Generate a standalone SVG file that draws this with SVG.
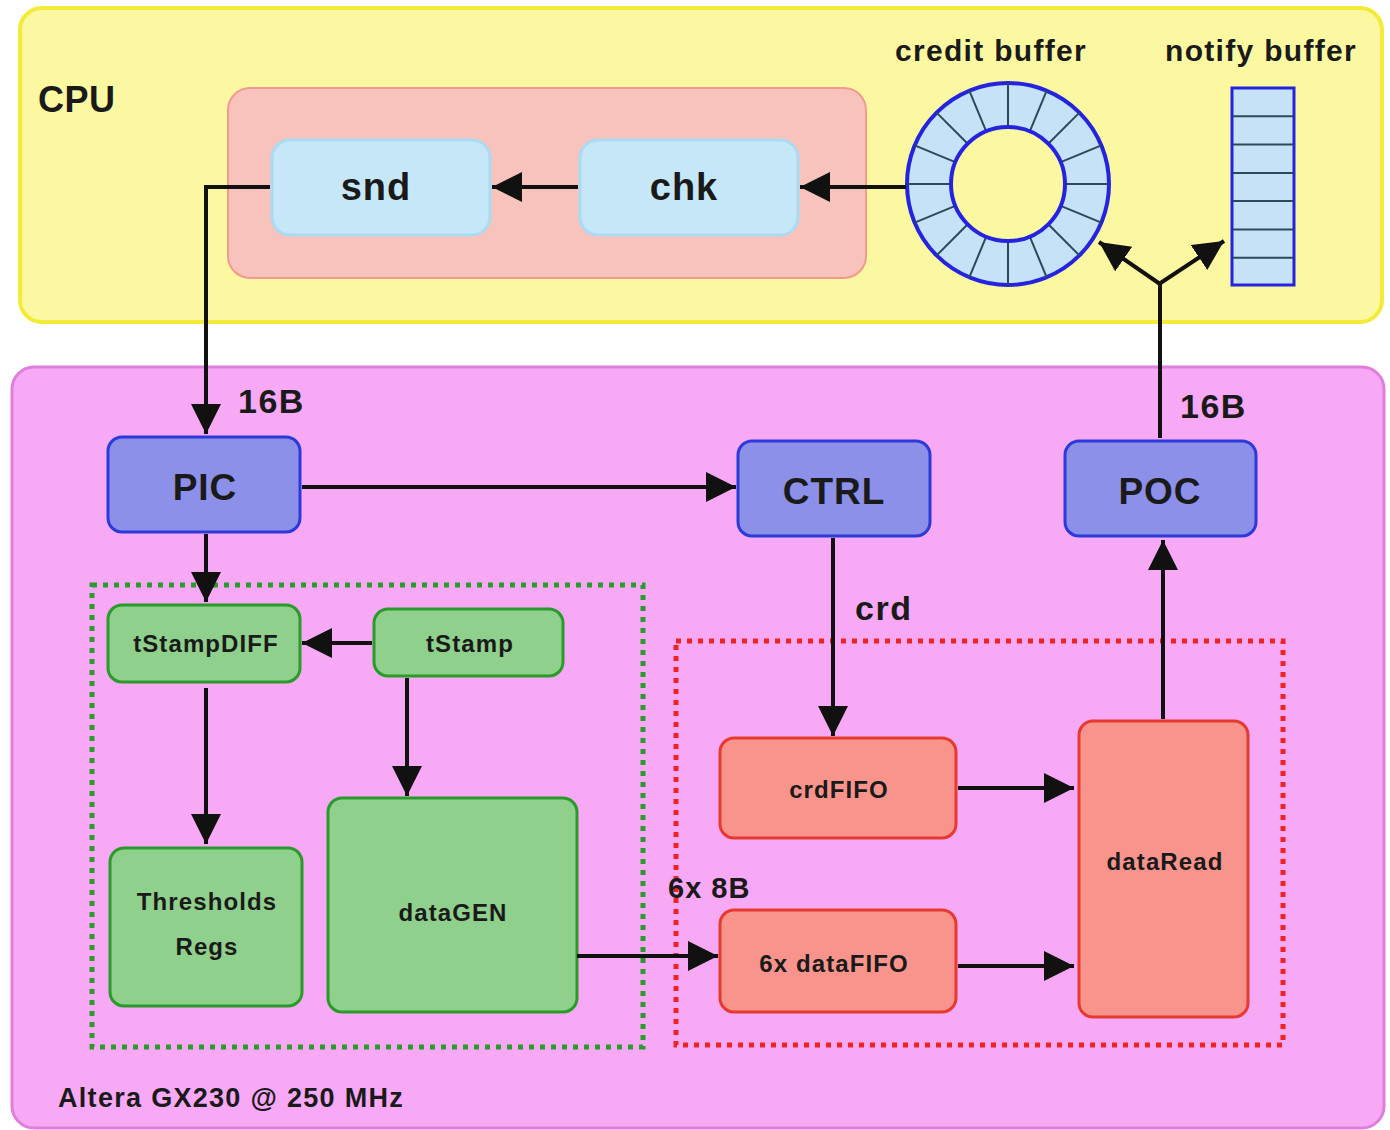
<svg xmlns="http://www.w3.org/2000/svg" width="1390" height="1130" viewBox="0 0 1390 1130">
<style>
text{font-family:"Liberation Sans",Arial,sans-serif;font-weight:bold;fill:#1a1a1a;text-anchor:middle}
.lbl{text-anchor:start}
.sm{font-size:24px;letter-spacing:1.1px}
.con{stroke:#111;stroke-width:4;fill:none}
.blue{fill:#8c90e8;stroke:#2b3ad8;stroke-width:3}
.green{fill:#8fd08c;stroke:#2a9a2a;stroke-width:3}
.red{fill:#f8948c;stroke:#e63a30;stroke-width:3}
.lb{fill:#c6e7f8;stroke:#a9dbf3;stroke-width:3}
.ring{fill:#c6e2f6;stroke:#2424e0;stroke-width:4}
.seg{stroke:#2a4a5a;stroke-width:2}
</style>
<defs>
<marker id="ah" markerUnits="userSpaceOnUse" markerWidth="32" markerHeight="32" refX="30" refY="15" orient="auto">
<path d="M0,0 L30,15 L0,30 z" fill="#111"/>
</marker>
</defs>
<rect width="1390" height="1130" fill="#ffffff"/>
<g id="cpu">
<rect x="20" y="8" width="1362" height="314" rx="22" fill="#fcf8a2" stroke="#f4ea38" stroke-width="4"/>
<text class="lbl" x="38" y="112" font-size="36" letter-spacing="0.5">CPU</text>
</g>
<g id="sw">
<rect x="228" y="88" width="638" height="190" rx="22" fill="#f9c3bd" stroke="#f09a90" stroke-width="2"/>
</g>
<g id="fpga">
<rect x="12" y="367" width="1372" height="761" rx="22" fill="#f8a9f6" stroke="#e07ede" stroke-width="3"/>
<text class="lbl" x="58" y="1107" font-size="27" letter-spacing="1.3">Altera GX230 @ 250 MHz</text>
</g>
<g id="greenGroup">
<rect x="92" y="585" width="551" height="462" fill="none" stroke="#2a9a2a" stroke-width="5" stroke-dasharray="5 6"/>
</g>
<g id="redGroup">
<rect x="676" y="641" width="607" height="404" fill="none" stroke="#ee2424" stroke-width="5" stroke-dasharray="5 6"/>
</g>
<g id="snd">
<rect class="lb" x="272" y="140" width="218" height="95" rx="18"/>
<text x="376" y="200" font-size="38" letter-spacing="1">snd</text>
</g>
<g id="chk">
<rect class="lb" x="580" y="140" width="218" height="95" rx="18"/>
<text x="684" y="200" font-size="38" letter-spacing="1">chk</text>
</g>
<g id="creditBuffer">
<circle class="ring" cx="1008" cy="184" r="101"/>
<g class="seg">
<line x1="1008" y1="83" x2="1008" y2="127"/>
<line x1="1046.7" y1="90.7" x2="1029.8" y2="131.3"/>
<line x1="1079.4" y1="112.6" x2="1048.3" y2="143.7"/>
<line x1="1101.3" y1="145.3" x2="1060.7" y2="162.2"/>
<line x1="1109" y1="184" x2="1065" y2="184"/>
<line x1="1101.3" y1="222.7" x2="1060.7" y2="205.8"/>
<line x1="1079.4" y1="255.4" x2="1048.3" y2="224.3"/>
<line x1="1046.7" y1="277.3" x2="1029.8" y2="236.7"/>
<line x1="1008" y1="285" x2="1008" y2="241"/>
<line x1="969.3" y1="277.3" x2="986.2" y2="236.7"/>
<line x1="936.6" y1="255.4" x2="967.7" y2="224.3"/>
<line x1="914.7" y1="222.7" x2="955.3" y2="205.8"/>
<line x1="907" y1="184" x2="951" y2="184"/>
<line x1="914.7" y1="145.3" x2="955.3" y2="162.2"/>
<line x1="936.6" y1="112.6" x2="967.7" y2="143.7"/>
<line x1="969.3" y1="90.7" x2="986.2" y2="131.3"/>
</g>
<circle cx="1008" cy="184" r="57" fill="#fcf8a2" stroke="#2424e0" stroke-width="4"/>
<text x="991" y="61" font-size="30" letter-spacing="1.3">credit buffer</text>
</g>
<g id="notifyBuffer">
<rect x="1232" y="88" width="62" height="197" fill="#c6e2f6" stroke="#2424e0" stroke-width="3"/>
<g class="seg">
<line x1="1233" y1="116.3" x2="1293" y2="116.3"/>
<line x1="1233" y1="144.6" x2="1293" y2="144.6"/>
<line x1="1233" y1="172.9" x2="1293" y2="172.9"/>
<line x1="1233" y1="201.1" x2="1293" y2="201.1"/>
<line x1="1233" y1="229.4" x2="1293" y2="229.4"/>
<line x1="1233" y1="257.7" x2="1293" y2="257.7"/>
</g>
<text x="1261" y="61" font-size="30" letter-spacing="1.3">notify buffer</text>
</g>
<g id="PIC">
<rect class="blue" x="108" y="437" width="192" height="95" rx="14"/>
<text x="205" y="500" font-size="37" letter-spacing="1">PIC</text>
</g>
<g id="CTRL">
<rect class="blue" x="738" y="441" width="192" height="95" rx="14"/>
<text x="834" y="504" font-size="37" letter-spacing="1">CTRL</text>
</g>
<g id="POC">
<rect class="blue" x="1065" y="441" width="191" height="95" rx="14"/>
<text x="1160" y="504" font-size="37" letter-spacing="1">POC</text>
</g>
<g id="tStampDIFF">
<rect class="green" x="108" y="605" width="192" height="77" rx="14"/>
<text class="sm" x="206" y="652">tStampDIFF</text>
</g>
<g id="tStamp">
<rect class="green" x="374" y="609" width="189" height="67" rx="14"/>
<text class="sm" x="470" y="652">tStamp</text>
</g>
<g id="thresholds">
<rect class="green" x="110" y="848" width="192" height="158" rx="14"/>
<text class="sm" x="207" y="910">Thresholds</text>
<text class="sm" x="207" y="955">Regs</text>
</g>
<g id="dataGEN">
<rect class="green" x="328" y="798" width="249" height="214" rx="14"/>
<text class="sm" x="453" y="921">dataGEN</text>
</g>
<g id="crdFIFO">
<rect class="red" x="720" y="738" width="236" height="100" rx="14"/>
<text class="sm" x="839" y="798">crdFIFO</text>
</g>
<g id="dataFIFO">
<rect class="red" x="720" y="910" width="236" height="102" rx="14"/>
<text class="sm" x="834" y="972">6x dataFIFO</text>
</g>
<g id="dataRead">
<rect class="red" x="1079" y="721" width="169" height="296" rx="14"/>
<text class="sm" x="1165" y="870">dataRead</text>
</g>
<g id="connectors">
<line class="con" x1="578" y1="187" x2="492" y2="187" marker-end="url(#ah)"/>
<line class="con" x1="906" y1="187" x2="800" y2="187" marker-end="url(#ah)"/>
<polyline class="con" points="270,187 206,187 206,434" marker-end="url(#ah)"/>
<line class="con" x1="302" y1="487" x2="736" y2="487" marker-end="url(#ah)"/>
<line class="con" x1="1160" y1="438" x2="1160" y2="283"/>
<line class="con" x1="1160" y1="284" x2="1099" y2="242" marker-end="url(#ah)"/>
<line class="con" x1="1159" y1="284" x2="1224" y2="241" marker-end="url(#ah)"/>
<line class="con" x1="206" y1="534" x2="206" y2="602" marker-end="url(#ah)"/>
<line class="con" x1="833" y1="538" x2="833" y2="736" marker-end="url(#ah)"/>
<line class="con" x1="372" y1="643" x2="302" y2="643" marker-end="url(#ah)"/>
<line class="con" x1="206" y1="688" x2="206" y2="844" marker-end="url(#ah)"/>
<line class="con" x1="407" y1="678" x2="407" y2="796" marker-end="url(#ah)"/>
<line class="con" x1="577" y1="956" x2="718" y2="956" marker-end="url(#ah)"/>
<line class="con" x1="958" y1="788" x2="1074" y2="788" marker-end="url(#ah)"/>
<line class="con" x1="958" y1="966" x2="1074" y2="966" marker-end="url(#ah)"/>
<line class="con" x1="1163" y1="719" x2="1163" y2="540" marker-end="url(#ah)"/>
<text class="lbl" x="238" y="413" font-size="34" letter-spacing="1.5">16B</text>
<text class="lbl" x="1180" y="418" font-size="34" letter-spacing="1.5">16B</text>
<text class="lbl" x="855" y="620" font-size="34" letter-spacing="1.5">crd</text>
<text class="lbl" x="668" y="898" font-size="29" letter-spacing="1">6x 8B</text>
</g>
</svg>
